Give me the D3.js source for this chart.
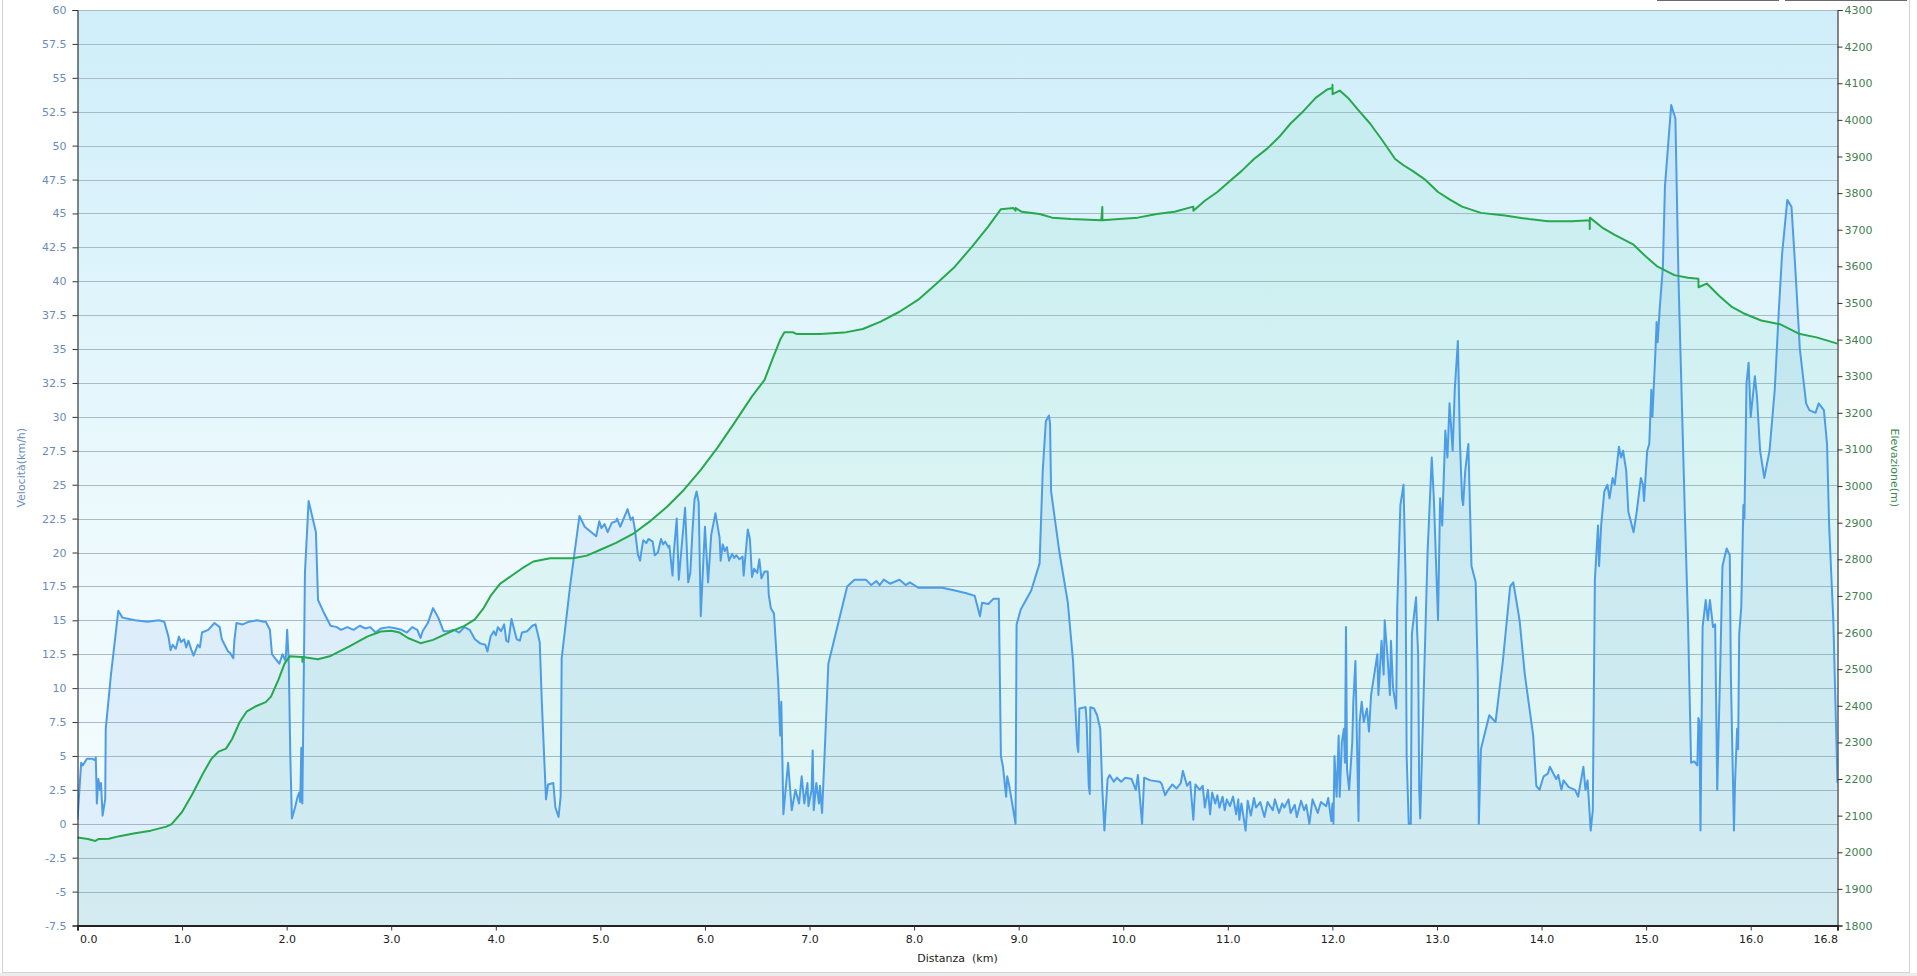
<!DOCTYPE html>
<html>
<head>
<meta charset="utf-8">
<script src="https://cdn.jsdelivr.net/npm/d3@7"></script>
<style>
html,body{margin:0;padding:0;background:#ffffff;}
svg{display:block;}
text{font-family:"DejaVu Sans",Verdana,sans-serif;}
</style>
</head>
<body>
<svg id="chart" width="1917" height="976"></svg>
<script>
// ---------- DATA ----------
const speedKm = [0.00,0.035,0.05,0.09,0.14,0.165,0.175,0.185,0.20,0.215,0.225,0.24,0.26,0.265,0.27,0.32,0.39,0.43,0.55,0.67,0.78,0.83,0.87,0.89,0.91,0.94,0.97,0.99,1.02,1.04,1.06,1.09,1.11,1.15,1.17,1.19,1.25,1.31,1.36,1.38,1.42,1.44,1.46,1.49,1.50,1.52,1.58,1.64,1.72,1.78,1.80,1.84,1.86,1.89,1.93,1.96,1.99,2.005,2.02,2.035,2.05,2.08,2.105,2.12,2.13,2.14,2.15,2.175,2.21,2.28,2.30,2.36,2.42,2.48,2.52,2.58,2.64,2.70,2.75,2.80,2.85,2.90,2.98,3.05,3.10,3.15,3.20,3.25,3.28,3.30,3.35,3.40,3.45,3.50,3.55,3.60,3.65,3.70,3.75,3.80,3.85,3.90,3.92,3.95,3.98,4.00,4.02,4.05,4.08,4.10,4.12,4.15,4.18,4.20,4.23,4.25,4.30,4.35,4.38,4.42,4.44,4.48,4.50,4.55,4.57,4.60,4.62,4.63,4.71,4.80,4.85,4.96,4.99,5.01,5.04,5.07,5.11,5.15,5.16,5.19,5.26,5.29,5.31,5.33,5.36,5.38,5.39,5.41,5.44,5.46,5.50,5.52,5.55,5.58,5.60,5.62,5.65,5.66,5.69,5.70,5.73,5.75,5.77,5.81,5.84,5.86,5.88,5.90,5.92,5.94,5.96,6.00,6.03,6.06,6.10,6.14,6.15,6.17,6.19,6.21,6.23,6.26,6.28,6.30,6.33,6.36,6.37,6.41,6.43,6.45,6.47,6.50,6.52,6.54,6.57,6.60,6.61,6.63,6.66,6.70,6.72,6.73,6.75,6.795,6.83,6.865,6.90,6.925,6.95,6.98,6.99,7.02,7.03,7.04,7.065,7.09,7.10,7.12,7.15,7.18,7.36,7.43,7.54,7.59,7.64,7.67,7.71,7.77,7.86,7.92,7.96,8.04,8.27,8.39,8.50,8.58,8.63,8.65,8.71,8.76,8.81,8.83,8.85,8.88,8.89,8.91,8.97,8.98,9.02,9.12,9.20,9.23,9.26,9.29,9.30,9.31,9.39,9.47,9.52,9.56,9.57,9.58,9.64,9.65,9.67,9.68,9.685,9.72,9.75,9.78,9.80,9.82,9.85,9.87,9.91,9.94,9.98,10.02,10.08,10.12,10.14,10.18,10.20,10.26,10.35,10.37,10.40,10.43,10.47,10.51,10.55,10.57,10.61,10.64,10.67,10.69,10.73,10.76,10.78,10.81,10.83,10.85,10.88,10.90,10.92,10.95,10.97,10.99,11.02,11.05,11.08,11.10,11.11,11.13,11.17,11.19,11.22,11.25,11.27,11.31,11.35,11.38,11.43,11.45,11.49,11.52,11.54,11.58,11.60,11.64,11.66,11.70,11.73,11.75,11.78,11.81,11.86,11.89,11.94,11.96,11.99,12.00,12.01,12.02,12.04,12.06,12.07,12.09,12.11,12.12,12.13,12.14,12.16,12.19,12.20,12.22,12.25,12.26,12.28,12.30,12.33,12.35,12.37,12.41,12.43,12.44,12.47,12.49,12.50,12.53,12.55,12.56,12.58,12.61,12.62,12.65,12.68,12.70,12.71,12.73,12.75,12.76,12.80,12.81,12.82,12.83,12.84,12.91,12.95,12.97,13.01,13.03,13.05,13.08,13.10,13.12,13.15,13.17,13.20,13.22,13.24,13.25,13.27,13.30,13.33,13.37,13.39,13.40,13.42,13.50,13.56,13.63,13.70,13.73,13.79,13.84,13.92,13.95,13.98,14.02,14.06,14.08,14.14,14.16,14.19,14.21,14.26,14.32,14.35,14.40,14.42,14.44,14.47,14.49,14.51,14.54,14.55,14.57,14.60,14.63,14.65,14.68,14.70,14.74,14.76,14.78,14.81,14.83,14.88,14.91,14.95,14.97,14.98,15.01,15.03,15.05,15.06,15.09,15.10,15.11,15.13,15.16,15.18,15.21,15.24,15.28,15.31,15.37,15.40,15.43,15.46,15.49,15.50,15.51,15.52,15.54,15.57,15.59,15.61,15.64,15.66,15.68,15.71,15.73,15.77,15.80,15.81,15.84,15.85,15.87,15.88,15.89,15.91,15.93,15.94,15.96,15.98,16.00,16.04,16.06,16.09,16.13,16.18,16.23,16.27,16.30,16.35,16.39,16.43,16.47,16.53,16.56,16.62,16.65,16.70,16.73,16.75,16.79,16.83];
const speedKmh = [0.3,4.5,4.3,4.8,4.8,4.7,4.9,1.5,3.3,2.5,3.0,0.6,1.6,1.8,7.0,11.0,15.7,15.2,15.0,14.9,15.0,14.9,13.8,12.8,13.2,12.9,13.8,13.4,13.6,13.0,13.5,12.8,12.4,13.2,13.0,14.1,14.3,14.8,14.5,13.6,13.0,12.7,12.6,12.2,13.5,14.8,14.7,14.9,15.0,14.9,14.9,14.3,12.5,12.2,11.8,12.5,12.0,14.3,12.0,5.0,0.4,1.2,2.0,2.3,1.6,5.6,1.5,18.5,23.8,21.5,16.5,15.5,14.6,14.5,14.3,14.5,14.3,14.6,14.4,14.5,14.1,14.4,14.5,14.4,14.3,14.1,14.5,14.3,13.7,14.2,14.8,15.9,15.2,14.2,14.2,14.3,14.1,14.5,14.3,13.6,13.3,13.2,12.7,13.8,14.2,13.9,14.5,14.2,14.7,13.5,13.4,15.1,14.2,13.6,13.5,14.1,14.2,14.6,14.7,13.4,9.0,1.8,2.9,3.0,1.2,0.5,2.0,12.2,17.5,22.7,21.9,21.2,22.3,21.8,22.1,21.5,22.2,22.3,22.5,21.9,23.2,22.4,22.6,21.7,19.8,19.4,20.0,20.9,20.7,21.0,20.8,19.8,20.0,21.0,20.6,20.8,20.4,20.5,18.3,19.8,22.5,18.0,19.8,23.3,17.8,18.5,21.5,23.9,24.5,23.7,15.3,21.9,17.8,21.3,22.9,21.1,19.4,20.6,20.1,20.4,19.4,19.9,19.6,19.8,19.5,19.7,18.3,21.7,21.0,18.2,18.8,18.5,19.5,18.1,18.6,18.6,16.9,15.9,15.5,10.5,6.5,9.0,0.7,4.5,1.0,2.5,1.5,3.5,1.5,3.0,1.3,2.5,5.4,1.0,3.0,1.5,2.8,0.8,6.2,11.8,17.5,18.0,18.0,17.6,17.9,17.6,18.0,17.7,18.0,17.6,17.8,17.4,17.4,17.2,17.0,16.8,15.3,16.3,16.2,16.6,16.6,5.0,4.2,2.0,3.5,2.8,0.0,14.7,15.8,17.2,19.2,26.0,29.7,30.1,29.5,24.5,20.0,16.3,12.0,5.8,5.3,8.5,8.6,7.5,2.8,2.2,8.6,8.5,8.0,7.0,2.5,-0.5,3.3,3.6,3.1,3.4,3.1,3.4,3.3,2.5,3.6,0.0,3.4,3.2,3.1,2.9,2.1,2.5,2.9,2.6,3.0,3.9,2.8,3.1,0.3,2.9,2.5,2.8,1.2,2.5,0.7,2.3,1.5,2.1,1.2,2.0,1.0,1.8,1.3,2.0,0.7,1.8,0.3,1.5,-0.5,1.7,0.6,1.9,1.2,1.6,0.5,1.6,1.0,1.8,0.8,1.5,1.2,1.8,0.8,1.4,0.5,1.7,1.0,1.4,0.0,1.8,0.8,1.6,1.3,1.9,0.2,1.5,0.0,5.0,2.0,6.5,2.0,6.0,7.0,4.5,14.5,4.0,2.5,6.0,9.0,12.0,0.2,7.5,9.0,7.5,8.5,6.8,9.5,11.5,12.5,9.5,13.5,11.0,15.0,12.0,9.5,13.5,10.0,8.5,16.0,23.5,25.0,18.0,5.0,0.0,0.0,14.0,16.7,14.2,12.5,2.5,0.4,20.0,27.0,24.0,15.0,24.0,22.0,29.0,27.0,31.0,27.5,32.0,35.6,28.0,24.0,23.5,26.0,28.0,19.0,17.8,11.0,0.0,5.5,8.0,7.5,12.0,17.5,17.8,15.0,11.0,6.5,2.8,2.5,3.5,3.7,4.2,3.3,3.6,2.5,3.2,2.7,2.5,2.0,4.2,2.5,3.2,-0.5,1.0,18.0,22.0,19.0,22.0,24.5,25.0,24.0,25.5,25.0,27.8,27.0,27.5,26.0,23.0,21.5,23.0,25.5,25.0,23.8,27.5,28.0,32.0,30.0,35.0,37.0,35.5,38.0,41.0,47.0,50.0,53.0,52.0,40.0,23.0,15.0,4.5,4.6,4.3,7.8,7.5,-0.5,14.5,16.5,15.0,16.5,14.5,14.7,2.5,12.0,19.0,20.3,19.8,11.0,-0.5,3.0,7.0,5.5,14.0,16.0,23.5,22.5,32.5,34.0,30.0,33.0,31.5,27.5,25.5,27.5,32.0,38.0,42.0,46.0,45.5,40.5,35.0,31.0,30.5,30.3,31.0,30.5,28.0,22.0,15.0,3.0];

const elevKm = [0.00,0.10,0.17,0.20,0.30,0.40,0.55,0.70,0.85,0.90,1.00,1.10,1.20,1.28,1.35,1.42,1.48,1.55,1.62,1.70,1.80,1.85,1.92,1.98,2.03,2.10,2.15,2.151,2.152,2.30,2.42,2.60,2.77,2.90,3.00,3.08,3.16,3.28,3.40,3.55,3.70,3.80,3.88,3.95,4.04,4.15,4.25,4.36,4.52,4.74,4.87,5.00,5.15,5.32,5.48,5.64,5.80,5.96,6.12,6.28,6.45,6.57,6.65,6.72,6.76,6.84,6.88,7.10,7.33,7.51,7.68,7.86,8.04,8.21,8.39,8.56,8.71,8.83,8.95,8.97,8.971,9.03,9.20,9.32,9.50,9.79,9.80,9.801,9.96,10.14,10.32,10.49,10.67,10.671,10.78,10.90,11.02,11.13,11.25,11.37,11.49,11.60,11.72,11.84,11.95,12.00,12.001,12.002,12.07,12.15,12.25,12.36,12.48,12.60,12.68,12.77,12.89,13.01,13.12,13.24,13.42,13.65,13.88,14.06,14.29,14.46,14.461,14.462,14.58,14.70,14.88,15.00,15.11,15.27,15.40,15.50,15.501,15.58,15.70,15.82,15.93,16.10,16.28,16.46,16.63,16.83];
const elevM = [2040,2036,2031,2036,2037,2044,2052,2059,2070,2077,2110,2160,2215,2255,2275,2283,2310,2355,2385,2398,2410,2425,2470,2515,2535,2534,2533,2520,2533,2527,2536,2562,2589,2603,2605,2600,2585,2571,2580,2600,2618,2636,2665,2700,2733,2755,2775,2794,2803,2803,2810,2826,2845,2871,2905,2944,2990,3044,3105,3172,3245,3290,3350,3400,3420,3420,3415,3415,3419,3429,3449,3476,3509,3552,3599,3656,3709,3756,3759,3752,3759,3749,3743,3733,3729,3726,3762,3726,3729,3733,3743,3749,3763,3752,3779,3803,3833,3860,3893,3920,3953,3990,4023,4060,4083,4087,4096,4070,4080,4060,4026,3990,3943,3893,3876,3860,3836,3803,3783,3763,3746,3739,3729,3723,3723,3726,3702,3733,3706,3686,3659,3626,3599,3576,3569,3566,3543,3553,3519,3489,3472,3452,3442,3416,3406,3389];

const speedTicks = [-7.5,-5,-2.5,0,2.5,5,7.5,10,12.5,15,17.5,20,22.5,25,27.5,30,32.5,35,37.5,40,42.5,45,47.5,50,52.5,55,57.5,60];
const elevTicks = [1800,1900,2000,2100,2200,2300,2400,2500,2600,2700,2800,2900,3000,3100,3200,3300,3400,3500,3600,3700,3800,3900,4000,4100,4200,4300];
const distTicks = [0,1,2,3,4,5,6,7,8,9,10,11,12,13,14,15,16,16.83];
const distLabels = ["0.0","1.0","2.0","3.0","4.0","5.0","6.0","7.0","8.0","9.0","10.0","11.0","12.0","13.0","14.0","15.0","16.0","16.8"];

// ---------- LAYOUT ----------
const L = 77.5, R = 1837.5, T = 10, B = 925.5;
const svg = d3.select("#chart");

// outer frame
svg.append("rect").attr("x",0).attr("y",973).attr("width",1917).attr("height",3).attr("fill","#ececec");
svg.append("rect").attr("x",2.5).attr("y",-2).attr("width",1907).attr("height",974.5)
  .attr("fill","#ffffff").attr("stroke","#d4d4d4").attr("stroke-width",1);
// buttons (cut off at top)
svg.append("rect").attr("x",1657.5).attr("y",-20).attr("width",121).attr("height",20.5)
  .attr("fill","#f4f4f4").attr("stroke","#6a6a6a");
svg.append("rect").attr("x",1785.5).attr("y",-20).attr("width",121).attr("height",20.5)
  .attr("fill","#f4f4f4").attr("stroke","#6a6a6a");

const x = d3.scaleLinear().domain([0,16.83]).range([L,R]);
const yS = d3.scaleLinear().domain([-7.5,60]).range([B,T]);
const yE = d3.scaleLinear().domain([1800,4300]).range([B,T]);

const defs = svg.append("defs");
const bg = defs.append("linearGradient").attr("id","bg").attr("x1",0).attr("y1",0).attr("x2",0).attr("y2",1);
bg.append("stop").attr("offset","0%").attr("stop-color","#cfeef9");
bg.append("stop").attr("offset","55%").attr("stop-color","#ecf9fd");
bg.append("stop").attr("offset","100%").attr("stop-color","#f6fcfd");
const eg = defs.append("linearGradient").attr("id","eg").attr("x1",0).attr("y1",0).attr("x2",0).attr("y2",1);
eg.append("stop").attr("offset","0%").attr("stop-color","#40d09a").attr("stop-opacity",0.10);
eg.append("stop").attr("offset","100%").attr("stop-color","#40c0a0").attr("stop-opacity",0.10);
defs.append("clipPath").attr("id","clip").append("rect").attr("x",L).attr("y",T).attr("width",R-L).attr("height",B-T);

svg.append("rect").attr("x",L).attr("y",T).attr("width",R-L).attr("height",B-T).attr("fill","url(#bg)");

// grid
svg.append("g").selectAll("line").data(speedTicks.filter(d=>d>-7.5)).join("line")
  .attr("x1",L).attr("x2",R).attr("y1",d=>Math.round(yS(d))+0.5).attr("y2",d=>Math.round(yS(d))+0.5)
  .attr("stroke","#a9bcc4").attr("stroke-width",1);

const speedData = speedKm.map((k,i)=>[k,speedKmh[i]]);
const elevData = elevKm.map((k,i)=>[k,elevM[i]]);

const plot = svg.append("g").attr("clip-path","url(#clip)");
plot.append("path").datum(speedData)
  .attr("d", d3.area().x(d=>x(d[0])).y0(B).y1(d=>yS(d[1])))
  .attr("fill","#5aa0e6").attr("fill-opacity",0.12);
plot.append("path").datum(elevData)
  .attr("d", d3.area().x(d=>x(d[0])).y0(B).y1(d=>yE(d[1])))
  .attr("fill","url(#eg)");
plot.append("path").datum(speedData)
  .attr("d", d3.line().x(d=>x(d[0])).y(d=>yS(d[1])))
  .attr("fill","none").attr("stroke","#4d9de6").attr("stroke-width",2).attr("stroke-linejoin","round");
plot.append("path").datum(elevData)
  .attr("d", d3.line().x(d=>x(d[0])).y(d=>yE(d[1])))
  .attr("fill","none").attr("stroke","#25a84e").attr("stroke-width",2).attr("stroke-linejoin","round");

// left axis
const gl = svg.append("g").attr("transform",`translate(${L},0)`)
  .call(d3.axisLeft(yS).tickValues(speedTicks).tickFormat(d=>String(d)).tickSize(5).tickPadding(6));
gl.select(".domain").attr("stroke","#111");
gl.selectAll(".tick line").attr("stroke","#333");
gl.selectAll("text").attr("fill","#6b8cb9").style("font-size","11px").style("font-family","'DejaVu Sans',Verdana,sans-serif");

// right axis
const gr = svg.append("g").attr("transform",`translate(${R},0)`)
  .call(d3.axisRight(yE).tickValues(elevTicks).tickFormat(d=>String(d)).tickSize(5).tickPadding(2));
gr.select(".domain").attr("stroke","#111");
gr.selectAll(".tick line").attr("stroke","#333");
gr.selectAll("text").attr("fill","#3f7f52").style("font-size","11px").style("font-family","'DejaVu Sans',Verdana,sans-serif");

// bottom axis
const gb = svg.append("g").attr("transform",`translate(0,${B})`)
  .call(d3.axisBottom(x).tickValues(distTicks).tickFormat((d,i)=>distLabels[i]).tickSize(5).tickPadding(5));
gb.select(".domain").attr("stroke","#222").attr("stroke-width",2);
gb.selectAll(".tick line").attr("stroke","#333");
gb.selectAll("text").attr("fill","#222").style("font-size","11px").style("font-family","'DejaVu Sans',Verdana,sans-serif");
gb.selectAll(".tick text").attr("text-anchor",(d,i)=> i===0 ? "start" : (i===distTicks.length-1 ? "end":"middle"))
  .attr("dx",(d,i)=> i===0 ? 2 : 0);

// titles
svg.append("text").attr("x",(L+R)/2).attr("y",962).attr("text-anchor","middle")
  .style("font-size","11px").style("white-space","pre").attr("fill","#222").text("Distanza  (km)");
svg.append("text").attr("transform",`translate(25,${(T+B)/2}) rotate(-90)`).attr("text-anchor","middle")
  .style("font-size","11px").attr("fill","#6b8cb9").text("Velocità(km/h)");
svg.append("text").attr("transform",`translate(1891,${(T+B)/2}) rotate(90)`).attr("text-anchor","middle")
  .style("font-size","11px").attr("fill","#3f8a52").text("Elevazione(m)");
</script>
</body>
</html>
